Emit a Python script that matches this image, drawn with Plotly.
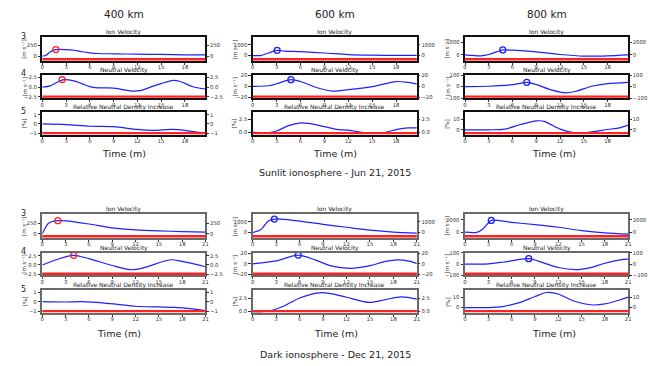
import plotly.graph_objects as go

W, H = 648, 366

# ---------------- data (time in minutes) ----------------
# Sunlit ionosphere - Jun 21, 2015
S400_ION_T = [0, 0.5, 1, 1.7, 3, 4, 5, 6, 7, 9, 12, 15, 18, 20.6]
S400_ION_V = [0, 20, 100, 150, 150, 135, 100, 75, 60, 53, 45, 38, 30, 28]
S400_NEU_T = [0, 1, 2, 2.6, 4, 5, 6, 7, 9, 10, 11.5, 12.5, 14, 15, 16.5, 17.5, 19, 20.6]
S400_NEU_V = [0, 0.3, 1.4, 1.9, 1.6, 0.9, 0.1, -0.2, -0.25, -0.6, -1.05, -0.85, 0.25, 0.9, 1.75, 1.4, 0.1, -0.5]
S400_DEN_T = [0, 3, 6, 9, 11, 12, 14, 16.5, 18, 19.5, 20.6]
S400_DEN_V = [0, -0.07, -0.25, -0.3, -0.5, -0.6, -0.7, -0.6, -0.7, -0.88, -1.0]

S600_ION_T = [0, 1, 2, 3, 4, 6, 9, 12, 15, 18, 20.6]
S600_ION_V = [0, 0, 240, 480, 420, 360, 240, 90, 30, 20, 20]
S600_NEU_T = [0, 2, 3, 4.8, 6, 8, 10, 12, 15, 18, 19.5, 20.6]
S600_NEU_V = [0, 1, 4.5, 11.8, 8.5, -2, -8.5, -6, -0.5, 8.5, 7, 4]
S600_DEN_T = [0, 2, 3, 4.5, 6, 7, 9, 10.5, 12, 14, 15, 16.5, 18, 19.5, 20.6]
S600_DEN_V = [0, -0.05, 0.25, 1.3, 1.85, 1.75, 1.1, 0.58, 0.4, -0.1, -0.25, -0.05, 0.5, 0.85, 0.85]

S800_ION_T = [0, 1, 2, 3, 4, 4.77, 6, 9, 12, 15, 18, 20.6]
S800_ION_V = [0, -50, -77, 25, 230, 385, 360, 230, 25, -100, -77, 0]
S800_NEU_T = [0, 3, 6, 7.8, 9, 11, 12.7, 14, 16, 18, 20.6]
S800_NEU_V = [0, 3, 17, 37, 17, -31, -54, -40, 3, 25, 37]
S800_DEN_T = [0, 3, 5, 7, 9, 10, 12, 14, 15, 18, 19.5, 20.6]
S800_DEN_V = [0, 0, 0.6, 5, 8.4, 8, 0.6, -3.1, -2.8, 0.3, 1.9, 4.4]

# Dark ionosphere - Dec 21, 2015
D400_ION_T = [0, 0.3, 0.7, 1.2, 2, 3, 6, 9, 12, 15, 18, 21]
D400_ION_V = [0, 110, 227, 280, 303, 298, 227, 136, 91, 68, 53, 38]
D400_NEU_T = [0, 2, 4, 6, 9, 11.5, 13, 16.5, 18, 21]
D400_NEU_V = [0, 1.55, 2.6, 1.7, -0.15, -1.3, -0.8, 1.4, 0.95, -0.5]
D400_DEN_T = [0, 3, 5, 8, 10, 12, 15, 17, 19, 21]
D400_DEN_V = [0, -0.03, 0, -0.14, -0.3, -0.48, -0.55, -0.6, -0.72, -0.93]

D600_ION_T = [0, 1, 1.5, 2, 2.77, 3.5, 6, 9, 12, 15, 18, 21]
D600_ION_V = [0, 250, 650, 1060, 1240, 1242, 1060, 757, 485, 212, 30, -60]
D600_NEU_T = [0, 3, 5.83, 8, 10, 12.5, 15, 17, 18.5, 20, 21]
D600_NEU_V = [0, 5.6, 16.3, 7.3, -3.9, -8.5, -3.4, 4.5, 7.3, 5, 0.5]
D600_DEN_T = [0, 1, 2.5, 4, 6, 8.5, 10, 12, 15, 17, 19, 21]
D600_DEN_V = [0, -0.05, 0.25, 1.06, 2.6, 3.6, 3.45, 2.75, 1.75, 2.3, 2.8, 2.4]

D800_ION_T = [0, 1.5, 2.3, 3, 3.38, 6, 9, 12, 15, 18, 21]
D800_ION_V = [0, -30, 526, 1473, 1895, 1579, 1210, 790, 263, -105, -315]
D800_NEU_T = [0, 3, 5, 8.2, 10, 12, 14.3, 16, 18, 20, 21]
D800_NEU_V = [0, 3, 19, 49, 14, -30, -49, -33, 8, 38, 44]
D800_DEN_T = [0, 3, 5, 7, 9, 10.5, 12, 14, 16.5, 18, 20, 21]
D800_DEN_V = [0, 0, 1.25, 4.7, 10.6, 14.4, 13, 6.3, 2.5, 3.5, 7.5, 10]

# peak markers (ion, neutral) per column
SUN_ION_MARK_T = [1.7, 3.07, 4.77]
SUN_ION_MARK_V = [150, 485, 385]
SUN_NEU_MARK_T = [2.5, 4.8, 7.8]
SUN_NEU_MARK_V = [1.95, 11.8, 37]
DARK_ION_MARK_T = [2.0, 2.77, 3.38]
DARK_ION_MARK_V = [303, 1240, 1895]
DARK_NEU_MARK_T = [4.04, 5.83, 8.2]
DARK_NEU_MARK_V = [2.6, 16.3, 49]

ALTITUDES = ["400 km", "600 km", "800 km"]
QUANTITIES = ["Ion Velocity", "Neutral Velocity", "Relative Neutral Density Increase"]
ROW_TITLES = ["Sunlit ionosphere - Jun 21, 2015", "Dark ionosphere - Dec 21, 2015"]
SUN_XTICKS = [0, 3, 6, 9, 12, 15, 18]
DARK_XTICKS = [0, 3, 6, 9, 12, 15, 18, 21]

# y ranges and ticks per column/quantity
YRANGES = {
    (0, 0, 0): [-114, 432], (0, 0, 1): [-2.95, 3.2], (0, 0, 2): [-1.18, 1.28],
    (0, 1, 0): [-515, 1697], (0, 1, 1): [-21.5, 20.5], (0, 1, 2): [-0.51, 3.97],
    (0, 2, 0): [-487, 1359], (0, 2, 1): [-102, 102], (0, 2, 2): [-4.7, 16.6],
    (1, 0, 0): [-98, 447], (1, 0, 1): [-2.85, 3.28], (1, 0, 2): [-1.17, 1.21],
    (1, 1, 0): [-515, 1667], (1, 1, 1): [-21.7, 20.5], (1, 1, 2): [-0.25, 4.1],
    (1, 2, 0): [-947, 2842], (1, 2, 1): [-101, 101], (1, 2, 2): [-5, 16.6],
}
YTICKS = {
    (0, 0): ([0, 250], ["0", "250"]), (0, 1): ([-2.5, 0, 2.5], ["\u22122.5", "0.0", "2.5"]),
    (0, 2): ([-1, 0, 1], ["\u22121", "0", "1"]),
    (1, 0): ([0, 1000], ["0", "1000"]), (1, 1): ([-20, 0, 20], ["\u221220", "0", "20"]),
    (1, 2): ([0, 2.5], ["0.0", "2.5"]),
    (2, 1): ([-100, 0, 100], ["\u2212100", "0", "100"]), (2, 2): ([0, 10], ["0", "10"]),
}
ION800_TICKS = {0: ([0, 1000], ["0", "1000"], ["0", "2000"]), 1: ([0, 2000], ["0", "2000"], ["0", "2000"])}

CURVES = {
    (0, 0): [(S400_ION_T, S400_ION_V), (S400_NEU_T, S400_NEU_V), (S400_DEN_T, S400_DEN_V)],
    (0, 1): [(S600_ION_T, S600_ION_V), (S600_NEU_T, S600_NEU_V), (S600_DEN_T, S600_DEN_V)],
    (0, 2): [(S800_ION_T, S800_ION_V), (S800_NEU_T, S800_NEU_V), (S800_DEN_T, S800_DEN_V)],
    (1, 0): [(D400_ION_T, D400_ION_V), (D400_NEU_T, D400_NEU_V), (D400_DEN_T, D400_DEN_V)],
    (1, 1): [(D600_ION_T, D600_ION_V), (D600_NEU_T, D600_NEU_V), (D600_DEN_T, D600_DEN_V)],
    (1, 2): [(D800_ION_T, D800_ION_V), (D800_NEU_T, D800_NEU_V), (D800_DEN_T, D800_DEN_V)],
}
MARKS = {
    0: [(SUN_ION_MARK_T, SUN_ION_MARK_V), (SUN_NEU_MARK_T, SUN_NEU_MARK_V)],
    1: [(DARK_ION_MARK_T, DARK_ION_MARK_V), (DARK_NEU_MARK_T, DARK_NEU_MARK_V)],
}

# ---------------- layout geometry (pixels) ----------------
COLS_PX = [(41, 207), (255, 422), (471, 637)]
ROWS_PX = [[(35, 59), (73, 97), (111, 134)], [(215, 239), (254, 277), (292, 315)]]
FONT = "DejaVu Sans"


def fx(x):
    return x / W


def fy(y):
    return 1 - y / H


fig = go.Figure()
layout = dict(width=W, height=H, margin=dict(l=0, r=0, t=0, b=0),
              paper_bgcolor="white", plot_bgcolor="white", showlegend=False,
              font=dict(family=FONT, color="#222"))
annotations = []
shapes = []

BLUE = "#1f1fff"
RED = "#ff2222"
TICKFONT = dict(size=5.3, color="#333", family=FONT)
k = 0
for r in range(2):
    frame_col = "#111" if r == 0 else "#6a6a6a"
    for c in range(3):
        x0p, x1p = COLS_PX[c]
        for q in range(3):
            k += 1
            kr = k + 18
            y0p, y1p = ROWS_PX[r][q]
            xa = "xaxis" if k == 1 else f"xaxis{k}"
            ya = "yaxis" if k == 1 else f"yaxis{k}"
            xr = "x" if k == 1 else f"x{k}"
            yr = "y" if k == 1 else f"y{k}"
            yrr = f"y{kr}"
            xticks = SUN_XTICKS if r == 0 else DARK_XTICKS
            xrange = [0, 20.6] if r == 0 else [0, 21]
            yrange = YRANGES[(r, c, q)]
            if c == 2 and q == 0:
                tv, tl, tr = ION800_TICKS[r]
            else:
                tv, tl = YTICKS[(c, q)]
                tr = tl
            layout[xa] = dict(domain=[fx(x0p), fx(x1p)], anchor=yr, range=xrange,
                              tickvals=xticks, ticktext=[str(v) for v in xticks],
                              showgrid=False, zeroline=False, showline=True, mirror=True,
                              linecolor=frame_col, linewidth=1.6 if r == 0 else 2,
                              ticks="outside", ticklen=2, tickwidth=0.8, tickcolor="#333",
                              ticklabelstandoff=-2, tickfont=TICKFONT)
            layout[ya] = dict(domain=[fy(y1p), fy(y0p)], anchor=xr, range=yrange,
                              tickvals=tv, ticktext=tl,
                              showgrid=False, zeroline=False, showline=True, mirror=True,
                              linecolor=frame_col, linewidth=1.6 if r == 0 else 2,
                              ticks="outside", ticklen=2.5, tickwidth=0.8, tickcolor="#333",
                              tickfont=TICKFONT)
            layout[f"yaxis{kr}"] = dict(overlaying=yr, anchor=xr, side="right", range=yrange,
                                        tickvals=tv, ticktext=tr, showgrid=False,
                                        zeroline=False, showline=False,
                                        ticks="outside", ticklen=2.5, tickwidth=0.8,
                                        tickcolor="#333", tickfont=TICKFONT)
            t, v = CURVES[(r, c)][q]
            # twin-axis copy (transparent) so the right-hand axis is drawn
            fig.add_trace(go.Scatter(x=t, y=v, xaxis=xr, yaxis=yrr, mode="lines",
                                     line=dict(color="rgba(0,0,0,0)", width=0),
                                     hoverinfo="skip"))
            fig.add_trace(go.Scatter(x=t, y=v, xaxis=xr, yaxis=yr, mode="lines",
                                     line=dict(color=BLUE, width=1.2, shape="spline",
                                               smoothing=0.8), hoverinfo="skip"))
            if q < 2:
                mt, mv = MARKS[r][q]
                fig.add_trace(go.Scatter(x=[mt[c]], y=[mv[c]], xaxis=xr, yaxis=yr,
                                         mode="markers",
                                         marker=dict(symbol="circle-open", size=6,
                                                     color=RED if c == 0 else BLUE,
                                                     line=dict(width=1.3)),
                                         hoverinfo="skip"))
            # red baseline along the bottom of each panel
            shapes.append(dict(type="line", xref=f"{xr} domain", yref=f"{yr} domain",
                               x0=0, x1=1, y0=0.075, y1=0.075,
                               line=dict(color=RED, width=2.4)))
            # panel title
            annotations.append(dict(text=QUANTITIES[q], x=fx((x0p + x1p) / 2), y=fy(y0p),
                                    xref="paper", yref="paper", xanchor="center",
                                    yanchor="bottom", showarrow=False, borderpad=0,
                                    font=dict(size=6, color="#222", family=FONT)))
            # unit label
            unit = "[m s\u207b\u00b9]" if q < 2 else "[%]"
            annotations.append(dict(text=unit, x=fx(x0p - 18), y=fy((y0p + y1p) / 2),
                                    xref="paper", yref="paper", textangle=-90,
                                    showarrow=False, xanchor="center", yanchor="middle",
                                    font=dict(size=5.5, color="#333", family=FONT)))
            if c == 0:
                annotations.append(dict(text=str(q + 3), x=fx(22), y=fy(y0p - 1),
                                        xref="paper", yref="paper", showarrow=False,
                                        xanchor="center", yanchor="middle",
                                        font=dict(size=8, color="#222", family=FONT)))

TIME_Y = [153, 336]
TIME_X = [[124, 339, 562], [119, 340, 562]]
for c in range(3):
    annotations.append(dict(text=ALTITUDES[c], x=fx((COLS_PX[c][0] + COLS_PX[c][1]) / 2),
                            y=fy(11), xref="paper", yref="paper", showarrow=False,
                            xanchor="center", yanchor="middle",
                            font=dict(size=10.5, color="#222", family=FONT)))
for r in range(2):
    for c in range(3):
        annotations.append(dict(text="Time (m)", x=fx(TIME_X[r][c]), y=fy(TIME_Y[r]),
                                xref="paper", yref="paper", showarrow=False,
                                xanchor="center", yanchor="middle",
                                font=dict(size=9.5, color="#222", family=FONT)))
ROW_TITLE_Y = [172, 357]
for r in range(2):
    annotations.append(dict(text=ROW_TITLES[r], x=fx(339), y=fy(ROW_TITLE_Y[r]),
                            xref="paper", yref="paper", showarrow=False,
                            xanchor="center", yanchor="middle",
                            font=dict(size=9.5, color="#222", family=FONT)))

layout["annotations"] = annotations
layout["shapes"] = shapes
fig.update_layout(**layout)
fig.write_html("out.html", config={"displayModeBar": False},
               post_script="document.body.style.margin='0';document.body.style.overflow='hidden';")
